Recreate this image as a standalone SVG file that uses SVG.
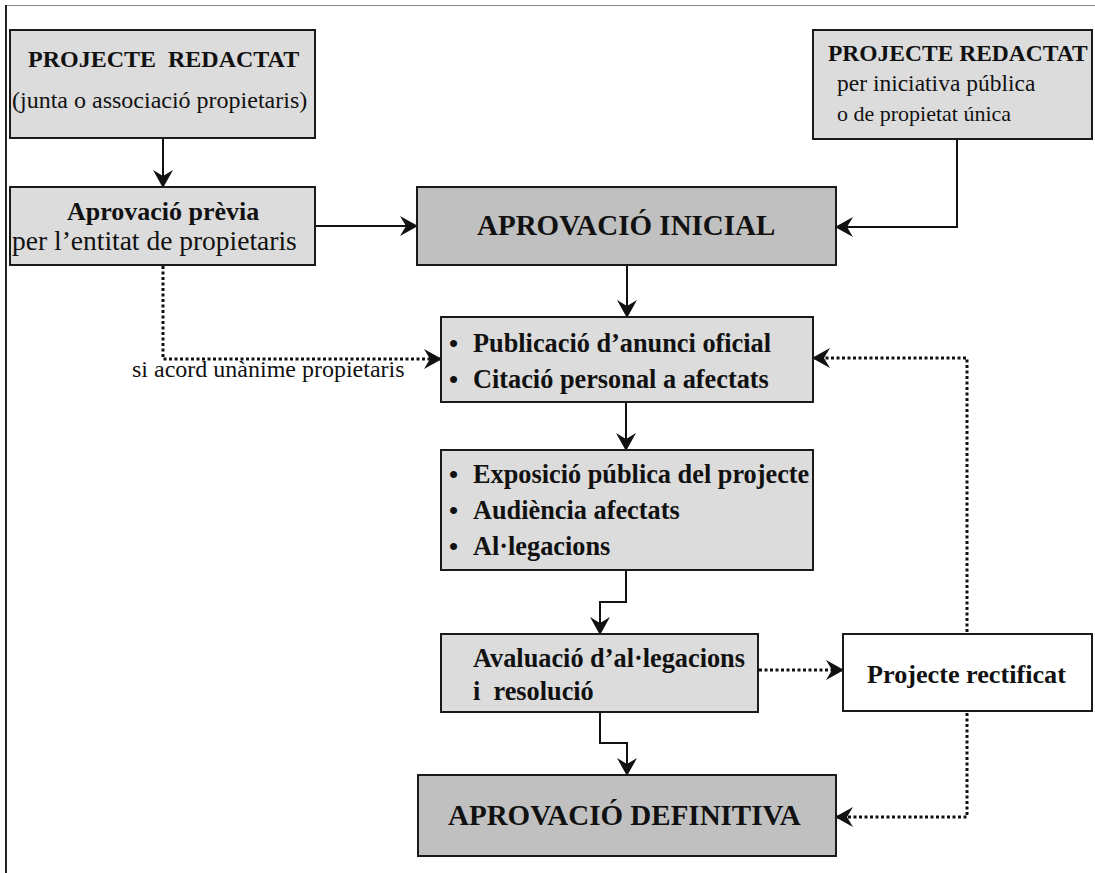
<svg xmlns="http://www.w3.org/2000/svg" width="1095" height="873" viewBox="0 0 1095 873">
<defs>
<style>
.box{stroke:#1a1a1a;stroke-width:2}
.lt{fill:#dcdcdc}
.dk{fill:#c0c0c0}
.wh{fill:#ffffff}
.t{fill:#111;white-space:pre}
.b{font-weight:bold}
.con{fill:none;stroke:#111;stroke-width:2}
.dot{fill:none;stroke:#111;stroke-width:3;stroke-dasharray:3 2.5}
</style>
<marker id="arr" viewBox="-19 -11 21 22" refX="0" refY="0" markerWidth="21" markerHeight="22" orient="auto" markerUnits="userSpaceOnUse">
<path d="M1,0 L-17,-10 L-11,0 L-17,10 Z" fill="#111"/>
</marker>
</defs>
<rect width="1095" height="873" fill="#ffffff"/>
<g id="frame">
<line x1="6" y1="5.5" x2="1095" y2="5.5" stroke="#888" stroke-width="1"/>
<line x1="6" y1="5" x2="6" y2="873" stroke="#222" stroke-width="2"/>
</g>
<g id="connectors">
<path class="con" d="M163,138 V187" marker-end="url(#arr)"/>
<path class="con" d="M315,226 H417" marker-end="url(#arr)"/>
<path class="con" d="M957,139 V227 H836" marker-end="url(#arr)"/>
<path class="con" d="M627,265 V317" marker-end="url(#arr)"/>
<path class="con" d="M626,402 V450" marker-end="url(#arr)"/>
<path class="con" d="M626,570 V602 H600 V634" marker-end="url(#arr)"/>
<path class="con" d="M600,712 V743 H627 V775" marker-end="url(#arr)"/>
<path class="dot" d="M163,266 V359 H441" marker-end="url(#arr)"/>
<path class="dot" d="M759,670 H843" marker-end="url(#arr)"/>
<path class="dot" d="M967,632 V358 H813" marker-end="url(#arr)"/>
<path class="dot" d="M967,713 V817 H836" marker-end="url(#arr)"/>
</g>
<g font-family="'Liberation Serif', 'Times New Roman', Times, serif">
<g id="projecte-junta">
<rect class="box lt" x="10" y="30" width="305" height="108"/>
<text class="t b" x="28" y="67" font-size="24">PROJECTE  REDACTAT</text>
<text class="t" x="12" y="108" font-size="24">(junta o associació propietaris)</text>
</g>
<g id="aprovacio-previa">
<rect class="box lt" x="10" y="187" width="305" height="78"/>
<text class="t b" x="67" y="220" font-size="26">Aprovació prèvia</text>
<text class="t" x="12" y="250" font-size="27.5">per l’entitat de propietaris</text>
</g>
<g id="projecte-public">
<rect class="box lt" x="813" y="30" width="279" height="109"/>
<text class="t b" x="828" y="61" font-size="23.5">PROJECTE REDACTAT</text>
<text class="t" x="837" y="91" font-size="23.5">per iniciativa pública</text>
<text class="t" x="837" y="121" font-size="22">o de propietat única</text>
</g>
<g id="aprovacio-inicial">
<rect class="box dk" x="417" y="187" width="419" height="78"/>
<text class="t b" x="477" y="235" font-size="29">APROVACIÓ INICIAL</text>
</g>
<g id="label-acord">
<text class="t" x="132" y="377" font-size="24">si acord unànime propietaris</text>
</g>
<g id="publicacio">
<rect class="box lt" x="441" y="317" width="372" height="85"/>
<text class="t b" x="449" y="352" font-size="26">•</text>
<text class="t b" x="473" y="352" font-size="26.3">Publicació d’anunci oficial</text>
<text class="t b" x="449" y="388" font-size="26">•</text>
<text class="t b" x="473" y="388" font-size="26.3">Citació personal a afectats</text>
</g>
<g id="exposicio">
<rect class="box lt" x="441" y="450" width="372" height="120"/>
<text class="t b" x="449" y="483" font-size="26">•</text>
<text class="t b" x="473" y="483" font-size="26.3">Exposició pública del projecte</text>
<text class="t b" x="449" y="519" font-size="26">•</text>
<text class="t b" x="473" y="519" font-size="26.3">Audiència afectats</text>
<text class="t b" x="449" y="555" font-size="26">•</text>
<text class="t b" x="473" y="555" font-size="26.3">Al·legacions</text>
</g>
<g id="avaluacio">
<rect class="box lt" x="441" y="634" width="317" height="78"/>
<text class="t b" x="473" y="667" font-size="26.3">Avaluació d’al·legacions</text>
<text class="t b" x="473" y="700" font-size="26.3">i  resolució</text>
</g>
<g id="projecte-rectificat">
<rect class="box wh" x="843" y="634" width="249" height="77"/>
<text class="t b" x="867" y="683" font-size="26.2">Projecte rectificat</text>
</g>
<g id="aprovacio-definitiva">
<rect class="box dk" x="418" y="775" width="418" height="81"/>
<text class="t b" x="448" y="825" font-size="29">APROVACIÓ DEFINITIVA</text>
</g>
</g>
</svg>
